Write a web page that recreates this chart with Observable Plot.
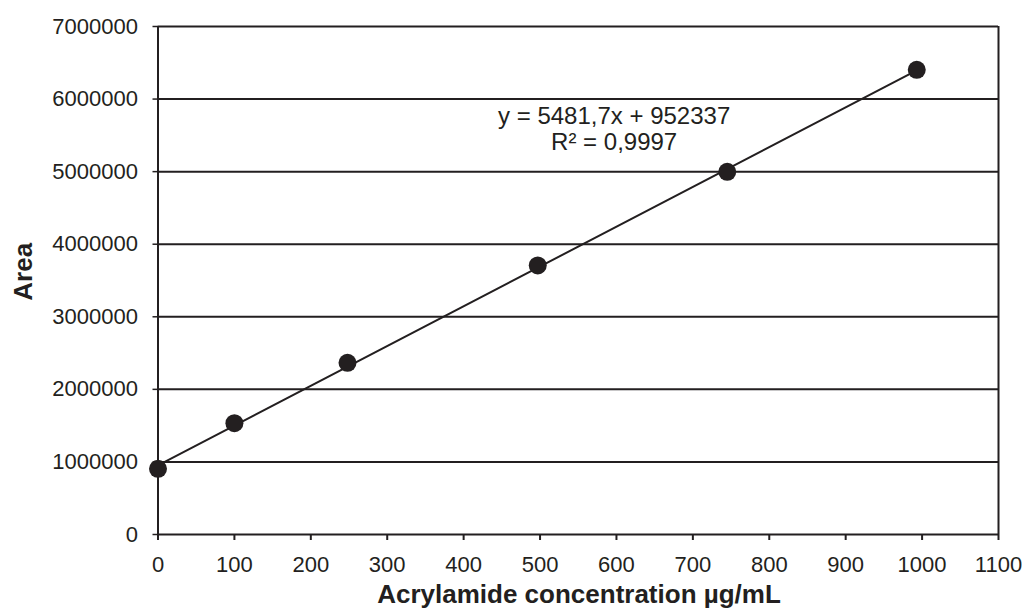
<!DOCTYPE html>
<html>
<head>
<meta charset="utf-8">
<script src="https://cdn.jsdelivr.net/npm/d3@7"></script>
<script src="https://cdn.jsdelivr.net/npm/@observablehq/plot@0.6"></script>
<style>
  html, body { margin: 0; padding: 0; background: #fff; }
  #chart svg { display: block; }
</style>
</head>
<body>
<div id="chart"></div>
<script>
const concentration = [0, 100, 248, 497, 745, 993];
const area = [905000, 1534000, 2366000, 3707000, 4998000, 6403000];
const trendX = [0, 993];
const trendY = [952337, 6395665];
const xTicks = [0, 100, 200, 300, 400, 500, 600, 700, 800, 900, 1000, 1100];
const yTicks = [0, 1000000, 2000000, 3000000, 4000000, 5000000, 6000000, 7000000];
const equationText = ["y = 5481,7x + 952337", "R² = 0,9997"];

const points = concentration.map((c, i) => ({x: c, y: area[i]}));
const trend = trendX.map((c, i) => ({x: c, y: trendY[i]}));
const ink = "#231f20";

const chart = Plot.plot({
  width: 1027,
  height: 612,
  marginLeft: 157.5,
  marginRight: 29,
  marginTop: 26,
  marginBottom: 78,
  style: {fontFamily: "'Liberation Sans', Arial, sans-serif", fontSize: "22px", color: ink, background: "#fff"},
  x: {domain: [0, 1100], ticks: xTicks, tickFormat: d => String(d)},
  y: {domain: [0, 7000000], ticks: yTicks, tickFormat: d => String(d)},
  marks: [
    Plot.ruleY(yTicks, {y: d => d, x1: 0, x2: 1100, stroke: ink, strokeWidth: 2}),
    Plot.ruleX([0, 1100], {x: d => d, y1: 0, y2: 7000000, stroke: ink, strokeWidth: 2}),
    Plot.axisX({ticks: xTicks, tickSize: 6, tickPadding: 16, stroke: ink, strokeWidth: 2, fill: ink, fontSize: 22, label: null, tickFormat: d => String(d)}),
    Plot.axisY({ticks: yTicks, tickSize: 5, tickPadding: 15, stroke: ink, strokeWidth: 1.5, fill: ink, fontSize: 22, label: null, tickFormat: d => String(d)}),
    Plot.line(trend, {x: "x", y: "y", stroke: ink, strokeWidth: 2}),
    Plot.dot(points, {x: "x", y: "y", r: 9, fill: ink, stroke: "none"}),
    Plot.text([equationText.join("\n")], {x: 597, y: 5595000, text: d => d, fontSize: 24, fill: ink, lineHeight: 1.08, textAnchor: "middle"}),
    Plot.text(["Acrylamide concentration µg/mL"], {x: 551, y: 0, frameAnchor: "bottom", dy: 68, lineAnchor: "bottom", text: d => d, fontSize: 26, fontWeight: "bold", fill: ink}),
    Plot.text(["Area"], {x: 0, y: 3620000, text: d => d, dx: -126, lineAnchor: "bottom", rotate: -90, fontSize: 26, fontWeight: "bold", fill: ink})
  ]
});
document.getElementById("chart").appendChild(chart);
</script>
</body>
</html>
